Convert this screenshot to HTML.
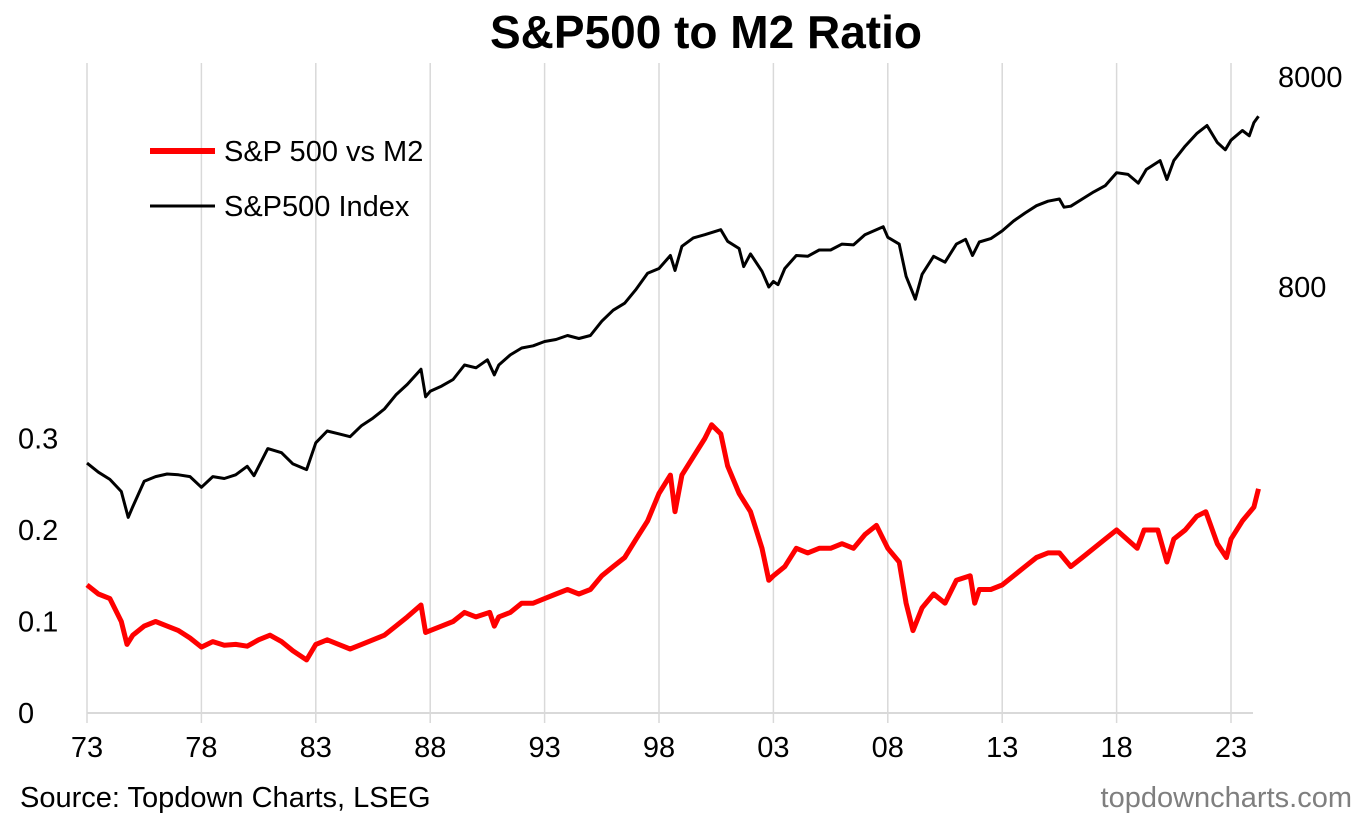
<!DOCTYPE html>
<html><head><meta charset="utf-8"><style>
body{margin:0;background:#fff;font-family:"Liberation Sans",Arial,sans-serif}
svg text{font-family:"Liberation Sans",Arial,sans-serif}
</style></head><body>
<svg id="chart" width="1372" height="820" viewBox="0 0 1372 820">
<text x="706" y="48" text-anchor="middle" font-size="46" font-weight="bold">S&amp;P500 to M2 Ratio</text>
<g id="grid"></g>
<g id="axes"></g>
<g id="series"></g>
<g>
<line x1="150" y1="151" x2="215" y2="151" stroke="#ff0000" stroke-width="6"/>
<text x="224" y="161" font-size="29">S&amp;P 500 vs M2</text>
<line x1="150" y1="206" x2="215" y2="206" stroke="#000" stroke-width="3"/>
<text x="224" y="216" font-size="29">S&amp;P500 Index</text>
</g>
<text x="20" y="807" font-size="29">Source: Topdown Charts, LSEG</text>
<text x="1352" y="807" font-size="29" fill="#7f7f7f" text-anchor="end">topdowncharts.com</text>
</svg>
<script>
const ratioYears=[1973,1973.5,1974,1974.5,1974.75,1975,1975.5,1976,1976.5,1977,1977.5,1978,1978.5,1979,1979.5,1980,1980.5,1981,1981.5,1982,1982.6,1983,1983.5,1984,1984.5,1985,1985.5,1986,1986.5,1987,1987.6,1987.8,1988,1988.5,1989,1989.5,1990,1990.6,1990.8,1991,1991.5,1992,1992.5,1993,1993.5,1994,1994.5,1995,1995.5,1996,1996.5,1997,1997.5,1998,1998.5,1998.7,1999,1999.5,2000,2000.3,2000.7,2001,2001.5,2002,2002.5,2002.8,2003,2003.5,2004,2004.5,2005,2005.5,2006,2006.5,2007,2007.5,2008,2008.5,2008.8,2009.1,2009.5,2010,2010.5,2011,2011.6,2011.8,2012,2012.5,2013,2013.5,2014,2014.5,2015,2015.5,2016,2016.5,2017,2017.5,2018,2018.9,2019.2,2019.8,2020.2,2020.5,2021,2021.5,2021.9,2022.4,2022.8,2023,2023.5,2024,2024.2];
const ratioValues=[0.14,0.13,0.125,0.10,0.075,0.085,0.095,0.10,0.095,0.09,0.082,0.072,0.078,0.074,0.075,0.073,0.08,0.085,0.078,0.068,0.058,0.075,0.08,0.075,0.07,0.075,0.08,0.085,0.095,0.105,0.118,0.088,0.09,0.095,0.1,0.11,0.105,0.11,0.095,0.105,0.11,0.12,0.12,0.125,0.13,0.135,0.13,0.135,0.15,0.16,0.17,0.19,0.21,0.24,0.26,0.22,0.26,0.28,0.30,0.315,0.305,0.27,0.24,0.22,0.18,0.145,0.15,0.16,0.18,0.175,0.18,0.18,0.185,0.18,0.195,0.205,0.18,0.165,0.12,0.09,0.115,0.13,0.12,0.145,0.15,0.12,0.135,0.135,0.14,0.15,0.16,0.17,0.175,0.175,0.16,0.17,0.18,0.19,0.2,0.18,0.2,0.2,0.165,0.19,0.2,0.215,0.22,0.185,0.17,0.19,0.21,0.225,0.245];
const indexYears=[1973,1973.5,1974,1974.5,1974.8,1975,1975.5,1976,1976.5,1977,1977.5,1978,1978.5,1979,1979.5,1980,1980.3,1980.9,1981.5,1982,1982.6,1983,1983.5,1984,1984.5,1985,1985.5,1986,1986.5,1987,1987.6,1987.8,1988,1988.5,1989,1989.5,1990,1990.5,1990.8,1991,1991.5,1992,1992.5,1993,1993.5,1994,1994.5,1995,1995.5,1996,1996.5,1997,1997.5,1998,1998.5,1998.7,1999,1999.5,2000,2000.7,2001,2001.5,2001.7,2002,2002.5,2002.8,2003,2003.2,2003.5,2004,2004.5,2005,2005.5,2006,2006.5,2007,2007.8,2008,2008.5,2008.8,2009.2,2009.5,2010,2010.5,2011,2011.4,2011.7,2012,2012.5,2013,2013.5,2014,2014.5,2015,2015.5,2015.7,2016,2016.5,2017,2017.5,2018,2018.5,2018.95,2019.3,2019.9,2020.2,2020.5,2021,2021.5,2021.95,2022.4,2022.75,2023,2023.5,2023.8,2024,2024.2];
const indexValues=[116,105,97,85,64,72,95,100,103,102,100,89,100,98,102,112,101,136,130,115,108,145,165,160,155,175,190,210,245,275,325,240,255,270,290,340,330,360,305,340,380,410,420,440,450,470,455,470,550,620,670,780,930,980,1130,960,1250,1370,1420,1500,1320,1220,1000,1150,950,800,850,820,980,1130,1120,1200,1200,1280,1270,1420,1550,1380,1280,900,700,920,1120,1050,1280,1350,1130,1310,1360,1480,1650,1800,1950,2050,2100,1920,1940,2100,2270,2430,2800,2750,2500,2900,3200,2600,3200,3750,4300,4700,3900,3600,4000,4450,4200,4850,5200];
const xTickYears=[1973,1978,1983,1988,1993,1998,2003,2008,2013,2018,2023];
const xTickLabels=["73","78","83","88","93","98","03","08","13","18","23"];
const leftTicks=[0,0.1,0.2,0.3];
const leftTickLabels=["0","0.1","0.2","0.3"];
const rightTicks=[800,8000];
const rightTickLabels=["800","8000"];

const NS="http://www.w3.org/2000/svg";
const X=y=>87+(y-1973)*22.88;
const YL=v=>713-v*915;
const YR=v=>77+(Math.log10(8000)-Math.log10(v))*210;
function mk(tag,attrs,parent,text){const e=document.createElementNS(NS,tag);for(const k in attrs)e.setAttribute(k,attrs[k]);if(text!==undefined)e.textContent=text;parent.appendChild(e);return e;}
const grid=document.getElementById('grid'),axes=document.getElementById('axes'),ser=document.getElementById('series');
xTickYears.forEach((yr,i)=>{
  const g=mk('line',{x1:X(yr),x2:X(yr),y1:63,y2:723,stroke:'#d9d9d9','stroke-width':1.5},grid);
  
  
  const t=mk('text',{x:X(yr),y:757,'text-anchor':'middle','font-size':29},axes,xTickLabels[i]);
  
  
});
const ax=mk('line',{x1:87,x2:1253,y1:713,y2:713,stroke:'#d9d9d9','stroke-width':2},axes);


leftTicks.forEach((v,i)=>{
  const t=mk('text',{x:18,y:YL(v)+10,'font-size':29},axes,leftTickLabels[i]);
  
  
});
rightTicks.forEach((v,i)=>{
  const t=mk('text',{x:1278,y:YR(v)+10,'font-size':29},axes,rightTickLabels[i]);
  
  
});
const ip=mk('polyline',{points:indexYears.map((y,i)=>X(y).toFixed(1)+','+YR(indexValues[i]).toFixed(1)).join(' '),fill:'none',stroke:'#000','stroke-width':3,'stroke-linejoin':'round'},ser);


const rp=mk('polyline',{points:ratioYears.map((y,i)=>X(y).toFixed(1)+','+YL(ratioValues[i]).toFixed(1)).join(' '),fill:'none',stroke:'#ff0000','stroke-width':5,'stroke-linejoin':'round'},ser);


</script>
</body></html>
